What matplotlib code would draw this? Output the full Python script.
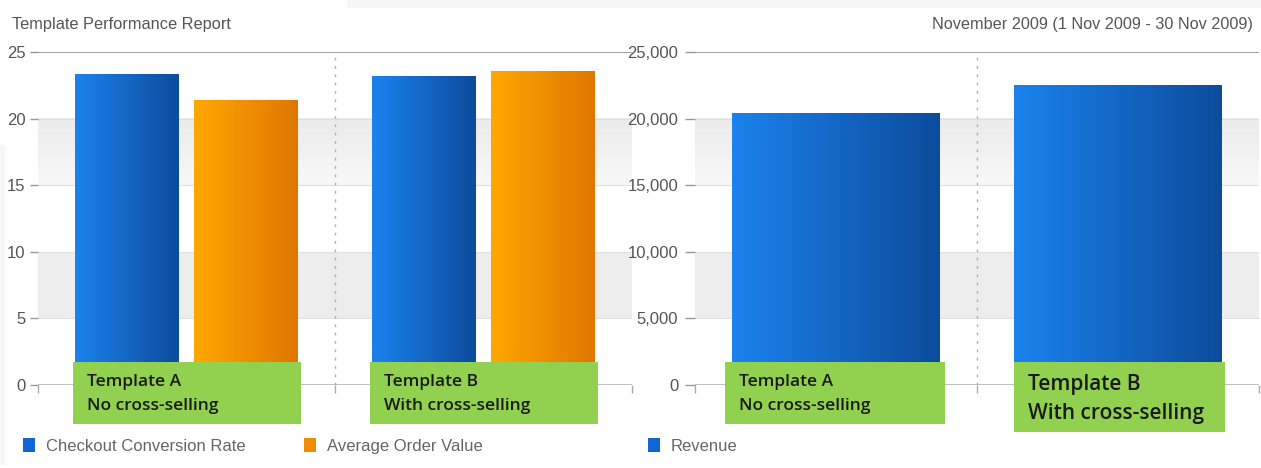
import numpy as np
import matplotlib
matplotlib.use("Agg")
import matplotlib.pyplot as plt
from matplotlib.patches import Rectangle
from matplotlib.colors import LinearSegmentedColormap
from matplotlib import font_manager as fm
import matplotlib.transforms as mtrans

# ---------------- data ----------------
templates = ["Template A\nNo cross-selling", "Template B\nWith cross-selling"]
conversion_rate = [23.35, 23.2]
avg_order_value = [21.4, 23.6]
revenue = [20400, 22500]
left_ticks = [0, 5, 10, 15, 20, 25]
right_ticks = [0, 5000, 10000, 15000, 20000, 25000]
series_left = ["Checkout Conversion Rate", "Average Order Value"]
series_right = ["Revenue"]
title_left = "Template Performance Report"
title_right = "November 2009 (1 Nov 2009 - 30 Nov 2009)"

names = {f.name for f in fm.fontManager.ttflist}
SANS = [n for n in ["Liberation Sans Narrow", "Liberation Sans", "DejaVu Sans"] if n in names]
BOLD = [n for n in ["Open Sans", "Noto Sans", "DejaVu Sans"] if n in names]

BLUE_L, BLUE_R = "#1b82ee", "#0c4c9c"
ORNG_L, ORNG_R = "#ffa800", "#df7600"
GREEN = "#92d050"
TXT = "#555555"

fig = plt.figure(figsize=(12.61, 4.68), dpi=100)
W, H = 1261, 468

# faint screenshot frame remnants
fig.patches.append(Rectangle((347 / W, 1 - 8 / H), 1, 8 / H, transform=fig.transFigure,
                             facecolor="#f7f7f7", edgecolor="none", zorder=0))
fig.patches.append(Rectangle((0, 1 - 465 / H), 5 / W, 320 / H, transform=fig.transFigure,
                             facecolor="#f7f7f7", edgecolor="none", zorder=0))

def px_axes(x0, x1, ytop, ybot):
    return fig.add_axes([x0 / W, 1 - ybot / H, (x1 - x0) / W, (ybot - ytop) / H])

def gradient_bars(ax, bars, c0, c1):
    cmap = LinearSegmentedColormap.from_list("g", [c0, c1])
    grad = np.linspace(0, 1, 256).reshape(1, -1)
    for p in bars:
        bb = p.get_bbox()
        im = ax.imshow(grad, cmap=cmap, aspect="auto",
                       extent=[bb.x0, bb.x1, bb.y0, bb.y1], zorder=p.get_zorder() + 0.1,
                       interpolation="bilinear")
        im.set_clip_path(p)

def style_axes(ax, ticks, ymax, fmt):
    for s in ax.spines.values():
        s.set_visible(False)
    band_cmap = LinearSegmentedColormap.from_list("band", ["#f8f8f8", "#ebebeb"])
    for i in range(len(ticks) - 1):
        if i % 2 == 1:
            if i == len(ticks) - 3:
                grad = np.linspace(0, 1, 64).reshape(-1, 1)
                ax.imshow(grad, cmap=band_cmap, aspect="auto", origin="lower",
                          extent=[0, 2, ticks[i], ticks[i + 1]], zorder=0)
            else:
                ax.axhspan(ticks[i], ticks[i + 1], color="#ededed", zorder=0, lw=0)
    for t in ticks:
        if t == ticks[-1]:
            ax.axhline(t, color="#a0a0a0", lw=1.4, zorder=1)
        elif t == 0:
            ax.axhline(t, color="#b5b5b5", lw=1.2, zorder=1)
        else:
            ax.axhline(t, color="#e0e0e0", lw=0.8, zorder=1)
    ax.axvline(1, color="#b0b0b0", lw=1.0, ls=(0, (2, 4)), zorder=1)
    ax.set_yticks(ticks)
    ax.set_yticklabels([fmt(t) for t in ticks], family=SANS, fontsize=12, color=TXT)
    ax.tick_params(axis="y", length=6, width=1, color="#999999", pad=3)
    ax.set_xticks([0, 1, 2])
    ax.set_xticklabels([])
    ax.tick_params(axis="x", length=6, width=1, color="#aaaaaa", direction="out")
    ax.set_xlim(0, 2)
    ax.set_ylim(0, ymax)
    ax.set_facecolor("none")

def label_box(ax, xc, width, ybot, ytop, text, fs, ls, dy=0):
    ax.add_patch(Rectangle((xc - width / 2, ybot), width, ytop - ybot, facecolor=GREEN,
                           edgecolor="none", zorder=5, clip_on=False))
    off = mtrans.offset_copy(ax.transData, fig=fig, x=14, y=dy, units="dots")
    ax.text(xc - width / 2, (ybot + ytop) / 2, text, ha="left", va="center",
            fontsize=fs, fontweight="semibold", family=BOLD, color="#1a1a1a",
            linespacing=ls, zorder=6, clip_on=False, transform=off)

x = np.arange(len(templates)) + 0.5

# ---------------- left chart ----------------
axL = px_axes(38, 632, 52, 385)
style_axes(axL, left_ticks, 25, lambda t: f"{t:g}")
b1 = axL.bar(x - 0.2, conversion_rate, width=0.35, color=BLUE_R, zorder=3, lw=0, label=series_left[0])
b2 = axL.bar(x + 0.2, avg_order_value, width=0.35, color=ORNG_R, zorder=3, lw=0, label=series_left[1])
gradient_bars(axL, b1, BLUE_L, BLUE_R)
gradient_bars(axL, b2, ORNG_L, ORNG_R)
for xi, t in zip(x, templates):
    label_box(axL, xi + 0.001, 0.766, -2.95, 1.73, t, 12.5, 1.65, dy=-1)

# ---------------- right chart ----------------
axR = px_axes(695, 1259, 52, 385)
style_axes(axR, right_ticks, 25000, lambda t: f"{t:,}")
axR.tick_params(axis="y", length=7, pad=5)
b3 = axR.bar(x, revenue, width=0.735, color=BLUE_R, zorder=3, lw=0, label=series_right[0])
gradient_bars(axR, b3, BLUE_L, BLUE_R)
label_box(axR, x[0] - 0.003, 0.78, -2930, 1730, templates[0], 12.5, 1.65, dy=-1)
label_box(axR, x[1] + 0.005, 0.748, -3530, 1730, templates[1], 15, 1.5, dy=-2)

# ---------------- titles ----------------
fig.text(12 / W, 1 - 25 / H, title_left, ha="left", va="center", family=SANS, fontsize=11.8, color=TXT)
fig.text(1253 / W, 1 - 25 / H, title_right, ha="right", va="center", family=SANS, fontsize=11.7, color=TXT)

# ---------------- legends ----------------
def legend_handles(cols):
    return [Rectangle((0, 0), 1, 1, facecolor=c, edgecolor="none") for c in cols]

legL = fig.legend(legend_handles(["#1565d0", "#f08c00"]), series_left, loc="center left",
                  bbox_to_anchor=(8 / W, 1 - 446 / H), ncol=2, frameon=False,
                  prop={"family": SANS, "size": 12}, labelcolor="#666666",
                  handlelength=0.72, handleheight=0.9, handletextpad=0.66, columnspacing=3.52)
legR = fig.legend(legend_handles(["#1565d0"]), series_right, loc="center left",
                  bbox_to_anchor=(633 / W, 1 - 446 / H), ncol=1, frameon=False,
                  prop={"family": SANS, "size": 12}, labelcolor="#666666",
                  handlelength=0.72, handleheight=0.9, handletextpad=0.66)

fig.savefig("out.png", dpi=100, facecolor="white")
